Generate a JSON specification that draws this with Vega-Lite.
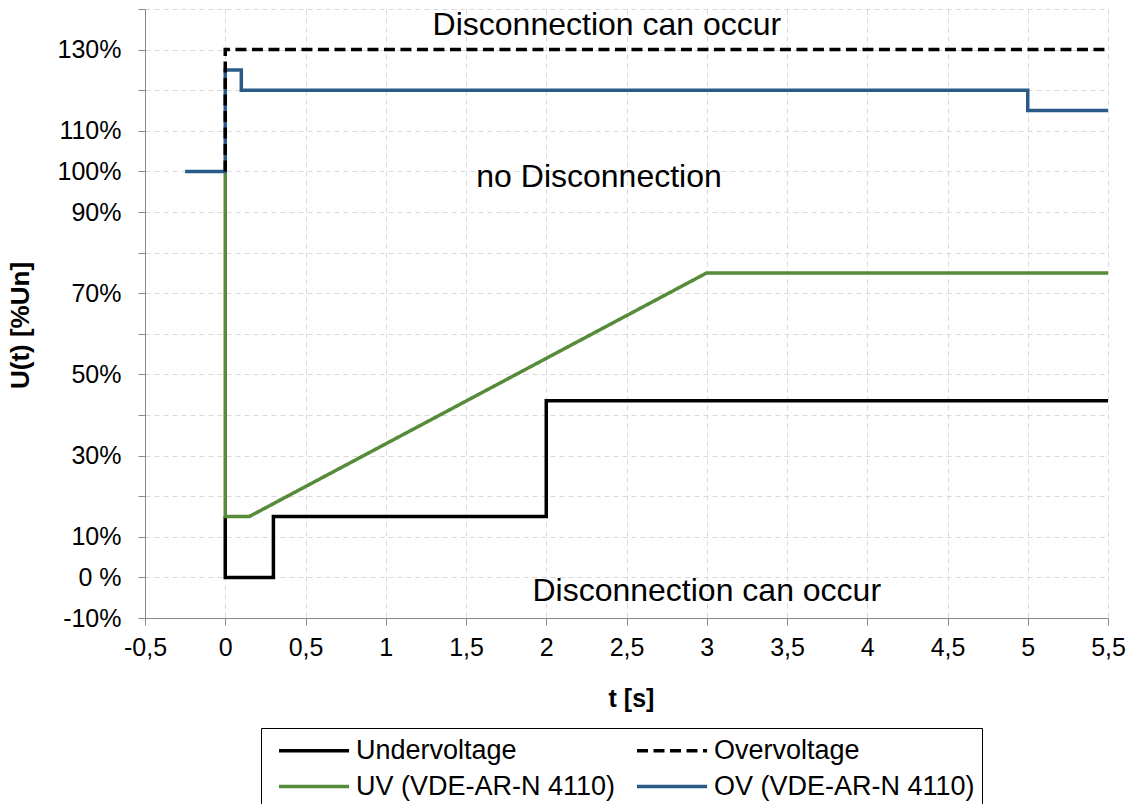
{
  "$schema": "https://vega.github.io/schema/vega-lite/v6.json",
  "width": 963,
  "height": 609,
  "autosize": {"type": "none"},
  "padding": {"left": 145, "top": 9, "right": 27, "bottom": 186},
  "background": "white",
  "config": {
    "font": "Liberation Sans",
    "view": {"stroke": null},
    "axis": {
      "labelFont": "Liberation Sans",
      "titleFont": "Liberation Sans",
      "labelColor": "black",
      "titleColor": "black",
      "domainColor": "#888888",
      "tickColor": "#888888",
      "gridColor": "#d9d9d9",
      "gridDash": [5, 4],
      "gridWidth": 1
    }
  },
  "layer": [
    {
      "data": {
        "values": [
          {"series": "Undervoltage", "i": 1, "t": 0, "u": 15},
          {"series": "Undervoltage", "i": 2, "t": 0, "u": 0},
          {"series": "Undervoltage", "i": 3, "t": 0.3, "u": 0},
          {"series": "Undervoltage", "i": 4, "t": 0.3, "u": 15},
          {"series": "Undervoltage", "i": 5, "t": 2, "u": 15},
          {"series": "Undervoltage", "i": 6, "t": 2, "u": 43.5},
          {"series": "Undervoltage", "i": 7, "t": 5.5, "u": 43.5},
          {"series": "UV (VDE-AR-N 4110)", "i": 1, "t": 0, "u": 100},
          {"series": "UV (VDE-AR-N 4110)", "i": 2, "t": 0, "u": 15},
          {"series": "UV (VDE-AR-N 4110)", "i": 3, "t": 0.15, "u": 15},
          {"series": "UV (VDE-AR-N 4110)", "i": 4, "t": 3, "u": 75},
          {"series": "UV (VDE-AR-N 4110)", "i": 5, "t": 5.5, "u": 75},
          {"series": "OV (VDE-AR-N 4110)", "i": 1, "t": -0.25, "u": 100},
          {"series": "OV (VDE-AR-N 4110)", "i": 2, "t": 0, "u": 100},
          {"series": "OV (VDE-AR-N 4110)", "i": 3, "t": 0, "u": 125},
          {"series": "OV (VDE-AR-N 4110)", "i": 4, "t": 0.1, "u": 125},
          {"series": "OV (VDE-AR-N 4110)", "i": 5, "t": 0.1, "u": 120},
          {"series": "OV (VDE-AR-N 4110)", "i": 6, "t": 5, "u": 120},
          {"series": "OV (VDE-AR-N 4110)", "i": 7, "t": 5, "u": 115},
          {"series": "OV (VDE-AR-N 4110)", "i": 8, "t": 5.5, "u": 115},
          {"series": "Overvoltage", "i": 1, "t": 0, "u": 100},
          {"series": "Overvoltage", "i": 2, "t": 0, "u": 130},
          {"series": "Overvoltage", "i": 3, "t": 5.5, "u": 130}
        ]
      },
      "mark": {"type": "line", "strokeWidth": 3.5, "strokeJoin": "miter", "strokeCap": "butt"},
      "encoding": {
        "x": {
          "field": "t",
          "type": "quantitative",
          "scale": {"domain": [-0.5, 5.5], "nice": false, "zero": false},
          "axis": {
            "title": "t [s]",
            "titleFontSize": 25,
            "titleFontWeight": "bold",
            "titleY": 88,
            "titleX": 486,
            "titleAlign": "center",
            "titleBaseline": "alphabetic",
            "values": [-0.5, 0, 0.5, 1, 1.5, 2, 2.5, 3, 3.5, 4, 4.5, 5, 5.5],
            "labelExpr": "replace(toString(datum.value), '.', ',')",
            "labelFontSize": 25,
            "labelFlush": false,
            "labelOverlap": false,
            "tickSize": 7,
            "labelPadding": 10,
            "grid": true
          }
        },
        "y": {
          "field": "u",
          "type": "quantitative",
          "scale": {"domain": [-10, 140], "nice": false, "zero": false},
          "axis": {
            "title": "U(t) [%Un]",
            "titleFontSize": 26,
            "titleFontWeight": "bold",
            "titleX": -117,
            "titleY": 316,
            "titleAngle": 270,
            "titleAlign": "center",
            "titleBaseline": "alphabetic",
            "values": [-10, 0, 10, 20, 30, 40, 50, 60, 70, 80, 90, 100, 110, 120, 130, 140],
            "labelExpr": "datum.value === 0 ? '0 %' : (indexof([130, 110, 100, 90, 70, 50, 30, 10, -10], datum.value) >= 0 ? datum.value + '%' : '')",
            "labelFontSize": 25,
            "labelOverlap": false,
            "labelBound": false,
            "labelFlush": false,
            "tickSize": 7,
            "labelPadding": 17,
            "grid": true
          }
        },
        "color": {
          "field": "series",
          "type": "nominal",
          "scale": {
            "domain": ["Undervoltage", "Overvoltage", "UV (VDE-AR-N 4110)", "OV (VDE-AR-N 4110)"],
            "range": ["#000000", "#000000", "#568B3A", "#2A5B88"]
          },
          "legend": {
            "title": null,
            "orient": "none",
            "legendX": 116,
            "legendY": 719,
            "columns": 2,
            "direction": "horizontal",
            "strokeColor": "black",
            "fillColor": "white",
            "padding": 7,
            "symbolOffset": 9,
            "symbolType": "M-1,0H4.19",
            "symbolSize": 729,
            "symbolStrokeWidth": 3.5,
            "labelFontSize": 27,
            "labelFont": "Liberation Sans",
            "labelColor": "black",
            "labelOffset": 48,
            "labelLimit": 500,
            "columnPadding": 10,
            "rowPadding": 7
          }
        },
        "strokeDash": {
          "field": "series",
          "type": "nominal",
          "scale": {
            "domain": ["Undervoltage", "Overvoltage", "UV (VDE-AR-N 4110)", "OV (VDE-AR-N 4110)"],
            "range": [[1, 0], [11, 5.5], [1, 0], [1, 0]]
          },
          "legend": null
        },
        "order": {"field": "i", "type": "quantitative"}
      }
    },
    {
      "data": {
        "values": [
          {"label": "Disconnection can occur", "t": 2.378, "u": 133.5},
          {"label": "no Disconnection", "t": 2.329, "u": 96.1},
          {"label": "Disconnection can occur", "t": 3.0, "u": -5.7}
        ]
      },
      "mark": {"type": "text", "fontSize": 32, "font": "Liberation Sans", "align": "center", "baseline": "alphabetic", "color": "black"},
      "encoding": {
        "x": {"field": "t", "type": "quantitative"},
        "y": {"field": "u", "type": "quantitative"},
        "text": {"field": "label", "type": "nominal"}
      }
    }
  ]
}
